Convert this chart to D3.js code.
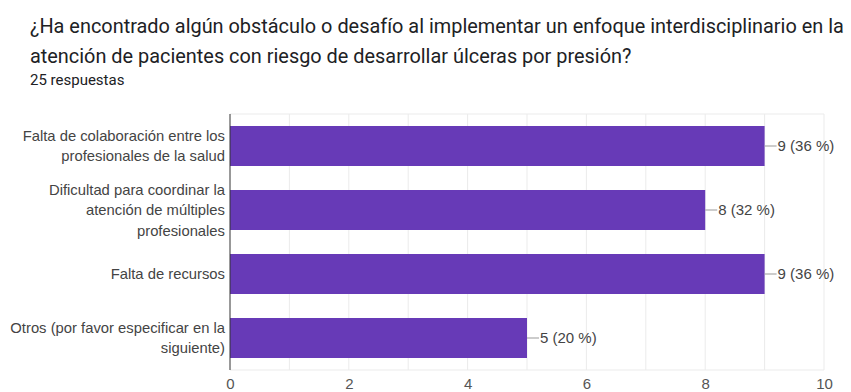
<!DOCTYPE html>
<html>
<head>
<meta charset="utf-8">
<script src="https://cdn.jsdelivr.net/npm/d3@7"></script>
<style>
  body { margin: 0; background: #fff; }
  svg text { font-family: Roboto, Arial, sans-serif; }
  svg .lbl { font-family: Arial, "Liberation Sans", sans-serif; }
</style>
</head>
<body>
<div id="chart"></div>
<script>
// datos
var categories = [
  ["Falta de colaboración entre los", "profesionales de la salud"],
  ["Dificultad para coordinar la", "atención de múltiples", "profesionales"],
  ["Falta de recursos"],
  ["Otros (por favor especificar en la", "siguiente)"]
];
var counts = [9, 8, 9, 5];
var total = 25;
var xTicks = [0, 2, 4, 6, 8, 10];
var titleLines = [
  "¿Ha encontrado algún obstáculo o desafío al implementar un enfoque interdisciplinario en la",
  "atención de pacientes con riesgo de desarrollar úlceras por presión?"
];
var subtitle = "25 respuestas";

var width = 851, height = 392;
var mLeft = 230, mRight = 824, mTop = 114, mBottom = 370;

var svg = d3.select("#chart").append("svg")
  .attr("width", width)
  .attr("height", height);

// título
svg.selectAll("text.title")
  .data(titleLines)
  .enter().append("text")
  .attr("class", "title")
  .attr("x", 30)
  .attr("y", function(d, i){ return 33 + i * 30; })
  .attr("fill", "#202124")
  .style("font-size", "19.9px")
  .text(function(d){ return d; });

svg.append("text")
  .attr("x", 30)
  .attr("y", 85)
  .attr("fill", "#202124")
  .style("font-size", "15px")
  .text(subtitle);

var x = d3.scaleLinear().domain([0, 10]).range([mLeft, mRight]);
var y = d3.scaleBand().domain(d3.range(counts.length)).range([mTop, mBottom]).paddingInner(0.375).paddingOuter(0.1875);

// rejilla
svg.append("g").selectAll("line")
  .data(d3.range(1, 11))
  .enter().append("line")
  .attr("x1", function(d){ return x(d); })
  .attr("x2", function(d){ return x(d); })
  .attr("y1", mTop)
  .attr("y2", mBottom)
  .attr("stroke", "#ebebeb")
  .attr("stroke-width", 1);

svg.append("line")
  .attr("x1", mLeft).attr("x2", mRight)
  .attr("y1", mTop).attr("y2", mTop)
  .attr("stroke", "#ebebeb");
svg.append("line")
  .attr("x1", mLeft).attr("x2", mRight)
  .attr("y1", mBottom).attr("y2", mBottom)
  .attr("stroke", "#ebebeb");

// eje x
var xAxis = d3.axisBottom(x).tickValues(xTicks).tickSize(0).tickPadding(8);
var gx = svg.append("g")
  .attr("transform", "translate(0," + mBottom + ")")
  .call(xAxis);
gx.select(".domain").remove();
gx.selectAll("text")
  .attr("class", "lbl")
  .attr("fill", "#555")
  .style("font-size", "15px")
  .style("font-family", "Arial, 'Liberation Sans', sans-serif");

// barras
svg.selectAll("rect.bar")
  .data(counts)
  .enter().append("rect")
  .attr("class", "bar")
  .attr("x", x(0))
  .attr("y", function(d, i){ return y(i); })
  .attr("width", function(d){ return x(d) - x(0); })
  .attr("height", y.bandwidth())
  .attr("fill", "#673ab7");

// eje vertical
svg.append("line")
  .attr("x1", mLeft).attr("x2", mLeft)
  .attr("y1", mTop).attr("y2", mBottom)
  .attr("stroke", "#333")
  .attr("stroke-width", 1);

// etiquetas de categoría
categories.forEach(function(lines, i){
  var cy = y(i) + y.bandwidth() / 2;
  var lh = 20.5;
  var t = svg.append("text")
    .attr("class", "lbl")
    .attr("text-anchor", "end")
    .attr("fill", "#444")
    .style("font-size", "14.8px");
  lines.forEach(function(l, j){
    t.append("tspan")
      .attr("x", mLeft - 5)
      .attr("y", cy + (j - (lines.length - 1) / 2) * lh)
      .attr("dy", "0.35em")
      .text(l);
  });
});

// valores
var vals = svg.append("g").selectAll("g")
  .data(counts)
  .enter().append("g");
vals.append("line")
  .attr("x1", function(d){ return x(d); })
  .attr("x2", function(d){ return x(d) + 12; })
  .attr("y1", function(d, i){ return y(i) + y.bandwidth() / 2; })
  .attr("y2", function(d, i){ return y(i) + y.bandwidth() / 2; })
  .attr("stroke", "#999");
vals.append("text")
  .attr("class", "lbl")
  .attr("x", function(d){ return x(d) + 13; })
  .attr("y", function(d, i){ return y(i) + y.bandwidth() / 2; })
  .attr("dy", "0.35em")
  .attr("fill", "#444")
  .style("font-size", "15px")
  .text(function(d){ return d + " (" + Math.round(d / total * 100) + " %)"; });
</script>
</body>
</html>
